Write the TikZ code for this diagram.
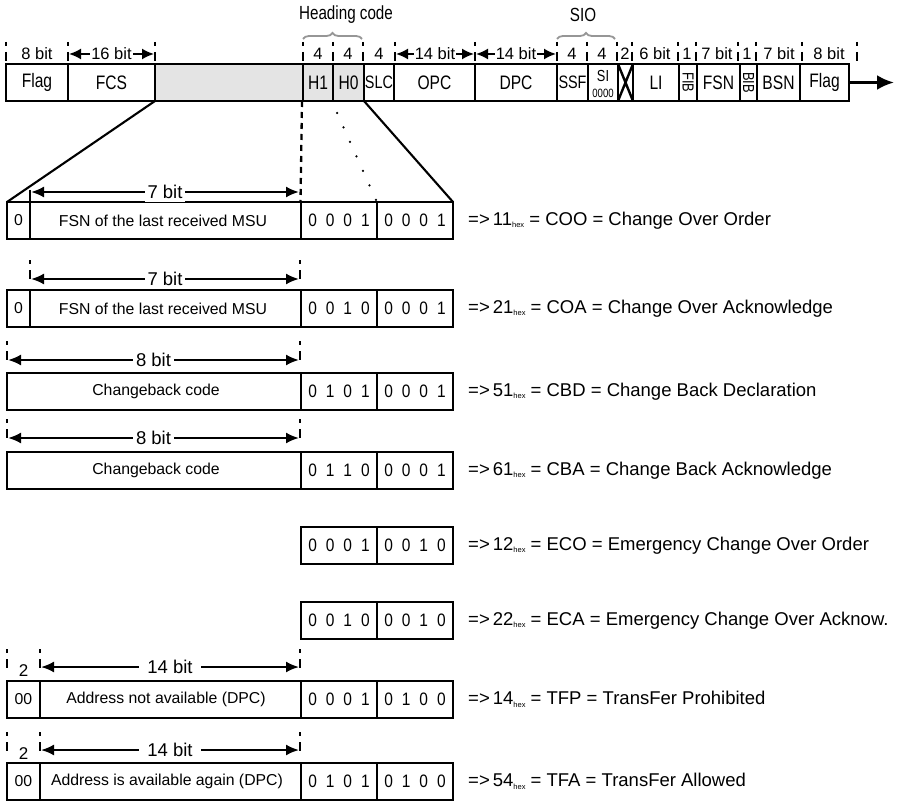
\documentclass[tikz,border=0pt]{standalone}
\usepackage{fontspec}
\setmainfont{Liberation Sans}
\newfontfamily\fnarrow{Liberation Sans}[FakeStretch=0.8]
\newfontfamily\fbits{Liberation Sans}[FakeStretch=0.86]
\usetikzlibrary{arrows.meta,decorations.pathreplacing}
\definecolor{cellgrey}{RGB}{228,228,228}
\definecolor{bracegrey}{RGB}{150,150,150}
\newcommand\bitsq[4]{#1\hspace{9pt}#2\hspace{9pt}#3\hspace{9pt}#4}
\newcommand\hexsub{{\fontsize{7.5}{8}\selectfont\raisebox{-2.5pt}{hex}}}
\begin{document}
\begin{tikzpicture}[x=1pt,y=-1pt,
  frame/.style={line width=2.7pt},
  divider/.style={line width=2.4pt},
  bartext/.style={font=\fnarrow\fontsize{19.5}{22}\selectfont, inner sep=0pt},
  celltext/.style={font=\fontsize{15.8}{19}\selectfont, inner sep=0pt},
  bittext/.style={font=\fbits\fontsize{18}{20}\selectfont, inner sep=0pt},
  desc/.style={font=\fontsize{18.5}{22}\selectfont, inner sep=0pt, anchor=west},
  toplbl/.style={font=\fontsize{16.5}{19}\selectfont, inner sep=1.5pt, fill=white},
  rowlbl/.style={font=\fontsize{18.5}{21}\selectfont, inner sep=3pt, fill=white},
  tickline/.style={line width=1.8pt, dash pattern=on 4pt off 6pt on 9pt},
  dimarrow/.style={line width=2pt, {Latex[length=13pt,width=11pt]}-{Latex[length=13pt,width=11pt]}},
  topdim/.style={line width=1.8pt, {Latex[length=12pt,width=11pt]}-{Latex[length=12pt,width=11pt]}},
  zoomline/.style={line width=2.1pt},
  bracestyle/.style={bracegrey, line width=1.8pt, decorate, decoration={brace, amplitude=6pt}}
]
\useasboundingbox (0,0) rectangle (904,802);

% ---------- headings ----------
\node[font=\fnarrow\fontsize{19}{22}\selectfont, inner sep=0pt] (hc) at (346,15) {Heading code};
\node[font=\fnarrow\fontsize{19}{22}\selectfont, inner sep=0pt] (sio) at (583,15) {SIO};
\draw[bracestyle] (303,39) -- (362,39);
\draw[bracestyle] (557,39) -- (615,39);

% ---------- top bar ----------
\fill[cellgrey] (155,64) rectangle (364,101);
\foreach \x in {68,155,303,333,364,394,475,557,588,618,633,679,697,740,757,800}
  \draw[divider] (\x,64) -- (\x,101);
\draw[divider] (618,64) -- (633,101) (633,64) -- (618,101);
\draw[frame] (6,64) rectangle (849,101);
\coordinate (barend) at (849,82.5);
\coordinate (arrowend) at (894,82.5);
\draw[line width=3pt, -{Latex[length=17pt,width=15pt]}] (barend) -- (arrowend);

\node[bartext] (flagA) at (37,82.5) {Flag};
\node[bartext] (fcs) at (111.5,82.5) {FCS};
\node[bartext] (h1) at (318,82.5) {H1};
\node[bartext] (h0) at (348.5,82.5) {H0};
\node[bartext, font=\fnarrow\fontsize{18}{20}\selectfont] (slc) at (379,82.5) {SLC};
\node[bartext] (opc) at (434.5,82.5) {OPC};
\node[bartext] (dpc) at (516,82.5) {DPC};
\node[bartext, font=\fnarrow\fontsize{18}{20}\selectfont] (ssf) at (572.5,82.5) {SSF};
\node[bartext, font=\fnarrow\fontsize{16}{18}\selectfont] (si) at (603,75.5) {SI};
\node[bartext, font=\fnarrow\fontsize{12}{13}\selectfont] (sizero) at (603,93.5) {0000};
\node[bartext] (li) at (656,82.5) {LI};
\node[bartext, font=\fnarrow\fontsize{16}{18}\selectfont, rotate=-90] (fib) at (688,82.5) {FIB};
\node[bartext] (fsn) at (718.5,82.5) {FSN};
\node[bartext, font=\fnarrow\fontsize{16}{18}\selectfont, rotate=-90] (bib) at (748.5,82.5) {BIB};
\node[bartext] (bsn) at (778.5,82.5) {BSN};
\node[bartext] (flagB) at (824.5,82.5) {Flag};

% ---------- bit-length row ----------
\foreach \x in {6,68,155,303,333,363,395,475,557,587,617,632,678,696,738,756,802,857}
  \draw[tickline] (\x,42) -- (\x,61);
\node[toplbl, fill=none] (l8a) at (37,54) {8 bit};
\coordinate (d16a) at (69,54); \coordinate (d16b) at (154,54);
\draw[topdim] (d16a) -- (d16b) node[toplbl, midway] (l16) {16 bit};
\node[toplbl, fill=none] (l4a) at (318,54) {4};
\node[toplbl, fill=none] (l4b) at (348,54) {4};
\node[toplbl, fill=none] (l4c) at (379,54) {4};
\coordinate (d14a) at (396,54); \coordinate (d14b) at (474,54);
\draw[topdim] (d14a) -- (d14b) node[toplbl, midway, inner sep=0.5pt] (l14a) {14 bit};
\coordinate (d14c) at (476,54); \coordinate (d14d) at (556,54);
\draw[topdim] (d14c) -- (d14d) node[toplbl, midway, inner sep=0.5pt] (l14b) {14 bit};
\node[toplbl, fill=none] (l4d) at (572,54) {4};
\node[toplbl, fill=none] (l4e) at (602,54) {4};
\node[toplbl, fill=none] (l2) at (625,54) {2};
\node[toplbl, fill=none] (l6) at (655,54) {6 bit};
\node[toplbl, fill=none] (l1a) at (687,54) {1};
\node[toplbl, fill=none] (l7a) at (717,54) {7 bit};
\node[toplbl, fill=none] (l1b) at (747,54) {1};
\node[toplbl, fill=none] (l7b) at (779,54) {7 bit};
\node[toplbl, fill=none] (l8b) at (829,54) {8 bit};

% ---------- zoom lines ----------
\coordinate (gl) at (155,101); \coordinate (r1l) at (7,202);
\coordinate (h0r) at (364,101); \coordinate (r1r) at (453,202);
\draw[zoomline] (gl) -- (r1l);
\draw[zoomline] (h0r) -- (r1r);
\coordinate (h1l) at (302,101); \coordinate (r1m) at (300.5,202);
\draw[line width=2.3pt, dash pattern=on 6pt off 5pt] (h1l) -- (r1m);
\coordinate (dotA) at (337,113); \coordinate (dotB) at (376,200);
\draw[line width=2.5pt, line cap=round, dash pattern=on 0pt off 15.88pt] (dotA) -- (dotB);

% ---------- row 1 : COO ----------
\draw[divider] (30,202) -- (30,239) (301,202) -- (301,239) (377,202) -- (377,239);
\draw[frame] (7,202) rectangle (453,239);
\node[celltext] (r1a) at (18.5,220.5) {0};
\node[celltext] (r1b) at (163,220.5) {FSN of the last received MSU};
\node[bittext] (r1c) at (339,220.5) {\bitsq0001};
\node[bittext] (r1d) at (415,220.5) {\bitsq0001};
\node[desc] (r1t) at (468,220.5) {=>\,11\hexsub\ = COO = Change Over Order};
\draw[line width=1.8pt] (30,190) -- (30,201);
\coordinate (a1a) at (31,192); \coordinate (a1b) at (299,192);
\draw[dimarrow] (a1a) -- (a1b) node[rowlbl, midway] (r1l7) {7 bit};

% ---------- row 2 : COA ----------
\draw[divider] (30,290) -- (30,327) (301,290) -- (301,327) (377,290) -- (377,327);
\draw[frame] (7,290) rectangle (453,327);
\node[celltext] (r2a) at (18.5,308.5) {0};
\node[celltext] (r2b) at (163,308.5) {FSN of the last received MSU};
\node[bittext] (r2c) at (339,308.5) {\bitsq0010};
\node[bittext] (r2d) at (415,308.5) {\bitsq0001};
\node[desc] (r2t) at (468,308.5) {=>\,21\hexsub\ = COA = Change Over Acknowledge};
\draw[tickline] (30,260) -- (30,280);
\draw[tickline] (300,260) -- (300,280);
\coordinate (a2a) at (31,279); \coordinate (a2b) at (299,279);
\draw[dimarrow] (a2a) -- (a2b) node[rowlbl, midway] (r2l7) {7 bit};

% ---------- row 3 : CBD ----------
\draw[divider] (301,373) -- (301,410) (377,373) -- (377,410);
\draw[frame] (7,373) rectangle (453,410);
\node[celltext] (r3b) at (156,391.5) {Changeback code};
\node[bittext] (r3c) at (339,391.5) {\bitsq0101};
\node[bittext] (r3d) at (415,391.5) {\bitsq0001};
\node[desc] (r3t) at (468,391.5) {=>\,51\hexsub\ = CBD = Change Back Declaration};
\draw[tickline] (7,341) -- (7,361);
\draw[tickline] (300,341) -- (300,361);
\coordinate (a3a) at (8,360); \coordinate (a3b) at (299,360);
\draw[dimarrow] (a3a) -- (a3b) node[rowlbl, midway] (r3l8) {8 bit};

% ---------- row 4 : CBA ----------
\draw[divider] (301,452) -- (301,489) (377,452) -- (377,489);
\draw[frame] (7,452) rectangle (453,489);
\node[celltext] (r4b) at (156,470.5) {Changeback code};
\node[bittext] (r4c) at (339,470.5) {\bitsq0110};
\node[bittext] (r4d) at (415,470.5) {\bitsq0001};
\node[desc] (r4t) at (468,470.5) {=>\,61\hexsub\ = CBA = Change Back Acknowledge};
\draw[tickline] (7,419) -- (7,439);
\draw[tickline] (300,419) -- (300,439);
\coordinate (a4a) at (8,438); \coordinate (a4b) at (299,438);
\draw[dimarrow] (a4a) -- (a4b) node[rowlbl, midway] (r4l8) {8 bit};

% ---------- row 5 : ECO ----------
\draw[divider] (377,527) -- (377,564);
\draw[frame] (301,527) rectangle (453,564);
\node[bittext] (r5c) at (339,545.5) {\bitsq0001};
\node[bittext] (r5d) at (415,545.5) {\bitsq0010};
\node[desc] (r5t) at (468,545.5) {=>\,12\hexsub\ = ECO = Emergency Change Over Order};

% ---------- row 6 : ECA ----------
\draw[divider] (377,602) -- (377,639);
\draw[frame] (301,602) rectangle (453,639);
\node[bittext] (r6c) at (339,620.5) {\bitsq0010};
\node[bittext] (r6d) at (415,620.5) {\bitsq0010};
\node[desc] (r6t) at (468,620.5) {=>\,22\hexsub\ = ECA = Emergency Change Over Acknow.};

% ---------- row 7 : TFP ----------
\draw[divider] (40,681) -- (40,718) (301,681) -- (301,718) (377,681) -- (377,718);
\draw[frame] (7,681) rectangle (453,718);
\node[celltext] (r7a) at (23.5,699.5) {00};
\node[celltext] (r7b) at (166,699.5) {Address not available (DPC)};
\node[bittext] (r7c) at (339,699.5) {\bitsq0001};
\node[bittext] (r7d) at (415,699.5) {\bitsq0100};
\node[desc] (r7t) at (468,699.5) {=>\,14\hexsub\ = TFP = TransFer Prohibited};
\draw[tickline] (7,649) -- (7,668);
\draw[tickline] (40,649) -- (40,668);
\draw[tickline] (300,649) -- (300,668);
\node[rowlbl, fill=none, font=\fontsize{17}{19}\selectfont] (r7two) at (23.5,671) {2};
\coordinate (a7a) at (41,667); \coordinate (a7b) at (299,667);
\draw[dimarrow] (a7a) -- (a7b) node[rowlbl, midway, inner xsep=8pt] (r7l14) {14 bit};

% ---------- row 8 : TFA ----------
\draw[divider] (40,763) -- (40,800) (301,763) -- (301,800) (377,763) -- (377,800);
\draw[frame] (7,763) rectangle (453,800);
\node[celltext] (r8a) at (23.5,781.5) {00};
\node[celltext] (r8b) at (167,781.5) {Address is available again (DPC)};
\node[bittext] (r8c) at (339,781.5) {\bitsq0101};
\node[bittext] (r8d) at (415,781.5) {\bitsq0100};
\node[desc] (r8t) at (468,781.5) {=>\,54\hexsub\ = TFA = TransFer Allowed};
\draw[tickline] (7,732) -- (7,751);
\draw[tickline] (40,732) -- (40,751);
\draw[tickline] (300,732) -- (300,751);
\node[rowlbl, fill=none, font=\fontsize{17}{19}\selectfont] (r8two) at (23.5,754) {2};
\coordinate (a8a) at (41,750); \coordinate (a8b) at (299,750);
\draw[dimarrow] (a8a) -- (a8b) node[rowlbl, midway, inner xsep=8pt] (r8l14) {14 bit};
\end{tikzpicture}
\end{document}
